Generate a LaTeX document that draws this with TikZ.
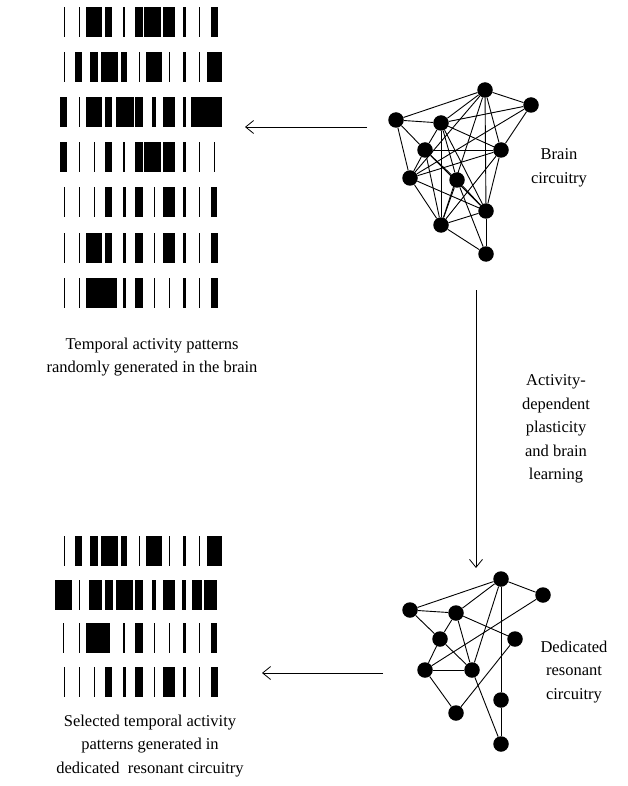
\documentclass[tikz,border=0pt]{standalone}
\usepackage{fontspec}
\setmainfont{Liberation Serif}
\usetikzlibrary{arrows,arrows.meta}

\newcommand{\spikerow}[2]{\foreach \a/\b in {#2} \fill (\a,#1) rectangle (\b,#1+30);}

\begin{document}
\begin{tikzpicture}[x=1pt,y=-1pt]
\tikzset{neuron/.style={circle,fill=black,inner sep=0pt,minimum size=15.5pt}}
\tikzset{link/.style={line width=0.9pt}}
\tikzset{flow/.style={line width=0.8pt,-{Straight Barb[length=8pt,width=13pt]}}}
\tikzset{caption/.style={align=center,inner sep=0pt,font=\fontsize{16.5}{23.5}\selectfont}}

\useasboundingbox (0,0) rectangle (627,786);

\spikerow{7}{63.5/64.8, 78.5/79.8, 86/102, 105/112, 123.3/124.8, 135/143, 144/161, 163/175, 183/186, 198.5/199.8, 211/218}
\spikerow{52}{63.5/64.8, 75/82, 90/98, 101/118, 121/127, 138.5/139.8, 146/162, 168.5/169.8, 183/186, 198.5/199.8, 207/222}
\spikerow{97}{60/67, 78.5/79.8, 86/102, 105/112, 116/134, 135/143, 152/155.5, 163/175, 183/186, 191/222}
\spikerow{142}{60/67, 78.5/79.8, 93.5/94.8, 105/112, 123/125, 135/143, 144/161, 163/175, 183/186, 198.5/199.8, 213.5/214.8}
\spikerow{187}{63.5/64.8, 78.5/79.8, 93.5/94.8, 105/112, 123/126, 135/143, 153.5/154.8, 163/175, 183/186, 198.5/199.8, 211/217}
\spikerow{233}{63.5/64.8, 78.5/79.8, 86/102, 105/112, 123/126, 135/143, 153.5/154.8, 163/175, 183/186, 198.5/199.8, 211/218}
\spikerow{278}{63.5/64.8, 78.5/79.8, 86/117, 123/126, 135/143, 153.5/154.8, 168.5/169.8, 183/186, 198.5/199.8, 211/218}

\spikerow{536}{63.5/64.8, 75/82, 90/98, 101/118, 121/127, 138.5/139.8, 146/162, 168.5/169.8, 183/186, 198.5/199.8, 207/222}
\spikerow{580}{55/72, 78.5/79.8, 89/102, 105/113, 116/133, 135/143, 152/156, 163/175, 182/186, 192/202, 204/217}
\spikerow{623}{63/64.3, 78.5/79.8, 86/110, 123/125, 135/143, 153.5/154.8, 168.5/169.8, 183/186, 198.5/199.8, 211/217}
\spikerow{667}{63.5/64.8, 78.5/79.8, 93.5/94.8, 105/112, 123/126, 135/143, 153.5/154.8, 163/175, 183/186, 198.5/199.8, 211/218}

\foreach \n/\x/\y in {A/485/90, B/531/105, C/396/120, D/441/123, E/425/150, F/501/150,
  G/410/178, H/457/180, I/486/211, J/441/225, K/486/254}
  \node[neuron] (t\n) at (\x,\y) {};
\foreach \u/\v in {A/B, A/C, A/D, A/F, A/I, A/J, A/G, B/D, B/F, B/G, C/D, C/E, C/G,
  D/E, D/J, D/H, D/I, D/F, E/F, E/G, E/H, E/J, E/I, F/G, F/J, F/I, G/J, G/I,
  H/J, H/I, H/K, I/J, I/K, J/K}
  \draw[link] (t\u) -- (t\v);

\foreach \n/\x/\y in {a/501/579, b/543/595, c/410/610, d/456/613, e/440/639, f/515/639,
  g/425/670, h/472/670, i/501/700, j/456/713, k/501/744}
  \node[neuron] (b\n) at (\x,\y) {};
\foreach \u/\v in {a/b, a/c, a/d, a/h, a/i, c/d, c/e, d/e, d/f, d/h, e/g, e/h,
  g/h, g/b, g/j, j/f, h/k, i/k}
  \draw[link] (b\u) -- (b\v);

\node[caption] (brain) at (559,168) {Brain\\circuitry};
\node[caption] (dedicated) at (574,672) {Dedicated\\resonant\\circuitry};
\node[caption] (plasticity) at (556,429) {Activity-\\dependent\\plasticity\\and brain\\learning};
\node[caption] (random) at (152,357) {Temporal activity patterns\\randomly generated in the brain};
\node[caption] (selected) at (150,746) {Selected temporal activity\\patterns generated in\\dedicated\ \ resonant circuitry};

\coordinate (topfrom) at (367,127);
\coordinate (topto) at (245,127);
\coordinate (downfrom) at (476,290);
\coordinate (downto) at (476,568);
\coordinate (botfrom) at (383,673);
\coordinate (botto) at (262,673);
\draw[flow] (topfrom) -- (topto);
\draw[flow] (downfrom) -- (downto);
\draw[flow] (botfrom) -- (botto);

\end{tikzpicture}
\end{document}
